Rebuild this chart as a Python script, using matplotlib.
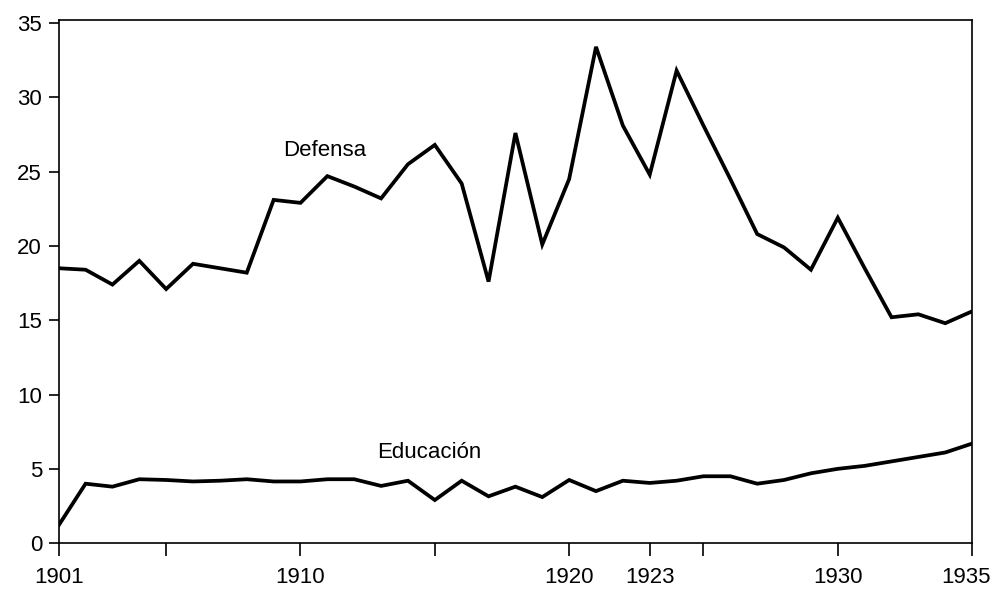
import matplotlib
matplotlib.use('Agg')
import matplotlib.pyplot as plt
import matplotlib.transforms as mtransforms

plt.rcParams['font.family'] = ['Liberation Sans', 'DejaVu Sans']

# years 1901-1935
years = list(range(1901, 1936))

# Gasto en defensa (%)
defensa = [18.5, 18.4, 17.4, 19.0, 17.1, 18.8, 18.5, 18.2, 23.1, 22.9,
           24.7, 24.0, 23.2, 25.5, 26.8, 24.2, 17.6, 27.6, 20.1, 24.5,
           33.4, 28.1, 24.8, 31.8, 28.1, 24.5, 20.8, 19.9, 18.4, 21.9,
           18.5, 15.2, 15.4, 14.8, 15.6]

# Gasto en educacion (%)
educacion = [1.2, 4.0, 3.8, 4.3, 4.25, 4.15, 4.2, 4.3, 4.15, 4.15,
             4.3, 4.3, 3.85, 4.2, 2.9, 4.2, 3.15, 3.8, 3.1, 4.25,
             3.5, 4.2, 4.05, 4.2, 4.5, 4.5, 4.0, 4.25, 4.7, 5.0,
             5.2, 5.5, 5.8, 6.1, 6.7]

xticks = [1901, 1905, 1910, 1915, 1920, 1923, 1925, 1930, 1935]
xlabels = ['1901', '', '1910', '', '1920', '1923', '', '1930', '1935']
yticks = [0, 5, 10, 15, 20, 25, 30, 35]

fig = plt.figure(figsize=(9.95, 5.91), dpi=100)
ax = fig.add_axes([0.059, 0.081, 0.918, 0.885])

ax.plot(years, defensa, color='black', linewidth=2.7, solid_joinstyle='miter')
ax.plot(years, educacion, color='black', linewidth=2.7, solid_joinstyle='miter')

ax.text(1909.35, 26.45, 'Defensa', fontsize=16, ha='left', va='center')
ax.text(1912.85, 6.1, 'Educación', fontsize=16, ha='left', va='center')

ax.set_xlim(1901, 1935)
ax.set_ylim(0, 35.2)
ax.set_xticks(xticks)
ax.set_xticklabels(xlabels)
ax.set_yticks(yticks)

ax.tick_params(axis='x', length=9, width=1.2, pad=8, labelsize=16)
ax.tick_params(axis='y', length=7, width=1.2, pad=5, labelsize=16)
for s in ax.spines.values():
    s.set_linewidth(1.2)

# last year label sits a little left so it stays inside the page
last = ax.get_xticklabels()[-1]
last.set_transform(last.get_transform() +
                   mtransforms.ScaledTranslation(-6 / 100, 0, fig.dpi_scale_trans))

fig.savefig('out.png', dpi=100)
